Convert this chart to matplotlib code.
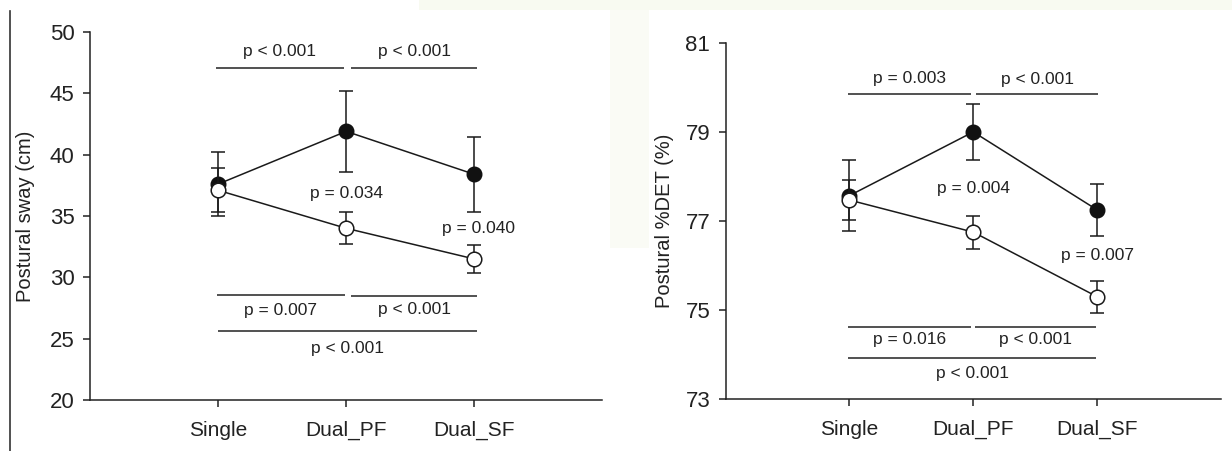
import matplotlib
matplotlib.use("Agg")
import matplotlib.pyplot as plt
from matplotlib.patches import Rectangle
from matplotlib.lines import Line2D

plt.rcParams['font.family'] = ['Liberation Sans', 'DejaVu Sans']

categories = ["Single", "Dual_PF", "Dual_SF"]

# Left panel: postural sway (cm)
sway_filled = [37.6, 41.9, 38.4]
sway_filled_err = [2.6, 3.3, 3.05]
sway_open = [37.1, 34.0, 31.5]
sway_open_err = [1.8, 1.3, 1.15]
sway_ticks = [20, 25, 30, 35, 40, 45, 50]

# Right panel: postural %DET (%)
det_filled = [77.57, 79.0, 77.25]
det_filled_err = [0.8, 0.62, 0.58]
det_open = [77.47, 76.75, 75.3]
det_open_err = [0.45, 0.37, 0.36]
det_ticks = [73, 75, 77, 79, 81]

# p-value annotations
sway_top_p = ["p < 0.001", "p < 0.001"]
sway_bottom_p = ["p = 0.007", "p < 0.001", "p < 0.001"]
sway_mid_p = ["p = 0.034", "p = 0.040"]
det_top_p = ["p = 0.003", "p < 0.001"]
det_bottom_p = ["p = 0.016", "p < 0.001", "p < 0.001"]
det_mid_p = ["p = 0.004", "p = 0.007"]

PFS = 12.5

fig = plt.figure(figsize=(12.32, 4.51), dpi=100)

# faint background watermark areas
fig.patches.append(Rectangle((0.34, 0.977), 0.66, 0.023, transform=fig.transFigure,
                             facecolor="#f8faf1", edgecolor="none", zorder=0))
fig.patches.append(Rectangle((0.495, 0.45), 0.032, 0.527, transform=fig.transFigure,
                             facecolor="#fafbf5", edgecolor="none", zorder=0))
fig.lines.append(Line2D([0.0085, 0.0085], [0.0, 0.975], transform=fig.transFigure,
                        color="#333333", lw=1.2))

ax1 = fig.add_axes([0.073, 0.113, 0.416, 0.816])
ax2 = fig.add_axes([0.589, 0.115, 0.402, 0.79])

x = [1, 2, 3]


def draw(ax, filled, ferr, opn, oerr, ticks, ylabel, lpad):
    ax.errorbar(x, filled, yerr=ferr, color="#1a1a1a", lw=1.1, marker="o",
                markersize=10.5, markerfacecolor="#111111", markeredgecolor="#111111",
                capsize=5, elinewidth=1.1, capthick=1.1, zorder=3)
    ax.errorbar(x, opn, yerr=oerr, color="#1a1a1a", lw=1.1, marker="o",
                markersize=10.5, markerfacecolor="white", markeredgecolor="#1a1a1a",
                markeredgewidth=1.1, capsize=5, elinewidth=1.1, capthick=1.1, zorder=4)
    ax.set_xlim(0, 4)
    ax.set_ylim(ticks[0], ticks[-1])
    ax.set_yticks(ticks)
    ax.set_xticks(x)
    ax.set_xticklabels(categories)
    ax.spines['top'].set_visible(False)
    ax.spines['right'].set_visible(False)
    for s in ['left', 'bottom']:
        ax.spines[s].set_linewidth(1.1)
        ax.spines[s].set_color("#222222")
    ax.tick_params(axis='both', direction='out', length=5, width=1.1, colors="#222222",
                   labelcolor="#222222")
    ax.tick_params(axis='y', labelsize=16, pad=6)
    ax.tick_params(axis='x', labelsize=15, pad=10)
    ax.set_ylabel(ylabel, fontsize=14.5, color="#222222", labelpad=lpad)
    ax.set_facecolor("white")


def bracket(ax, x0, x1, y, text, ty, fs=PFS):
    ax.plot([x0, x1], [y, y], color="#222222", lw=1.1, solid_capstyle="butt")
    ax.text((x0 + x1) / 2, ty, text, ha="center", va="center", fontsize=fs, color="#222222")


draw(ax1, sway_filled, sway_filled_err, sway_open, sway_open_err, sway_ticks,
     "Postural sway (cm)", 10.5)
bracket(ax1, 0.98, 1.98, 47.1, sway_top_p[0], 48.45)
bracket(ax1, 2.04, 3.02, 47.1, sway_top_p[1], 48.45)
bracket(ax1, 0.99, 1.99, 28.6, sway_bottom_p[0], 27.3)
bracket(ax1, 2.04, 3.02, 28.5, sway_bottom_p[1], 27.35)
bracket(ax1, 1.0, 3.02, 25.6, sway_bottom_p[2], 24.2)
ax1.text(2.0, 36.85, sway_mid_p[0], ha="center", va="center", fontsize=PFS, color="#222222")
ax1.text(3.03, 34.0, sway_mid_p[1], ha="center", va="center", fontsize=PFS, color="#222222")

draw(ax2, det_filled, det_filled_err, det_open, det_open_err, det_ticks,
     "Postural %DET (%)", 8)
bracket(ax2, 0.99, 1.98, 79.86, det_top_p[0], 80.2)
bracket(ax2, 2.02, 3.01, 79.86, det_top_p[1], 80.18)
bracket(ax2, 0.99, 1.98, 74.63, det_bottom_p[0], 74.33)
bracket(ax2, 2.01, 2.99, 74.63, det_bottom_p[1], 74.33)
bracket(ax2, 0.99, 2.99, 73.93, det_bottom_p[2], 73.58)
ax2.text(2.0, 77.73, det_mid_p[0], ha="center", va="center", fontsize=PFS, color="#222222")
ax2.text(3.0, 76.22, det_mid_p[1], ha="center", va="center", fontsize=PFS, color="#222222")

fig.savefig("out.png", dpi=100, facecolor="white")
